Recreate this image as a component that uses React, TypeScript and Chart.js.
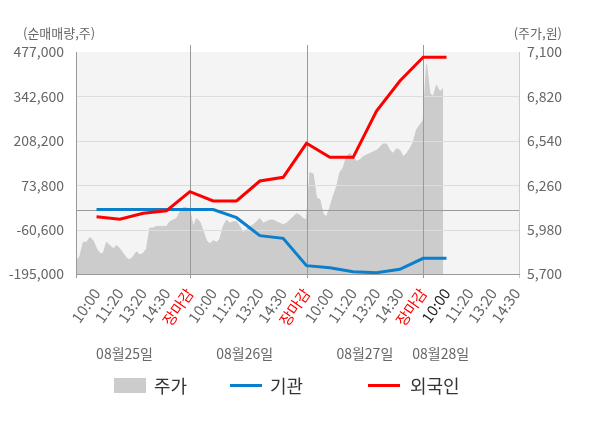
import { useEffect, useRef } from "react"
import { Chart, registerables } from "chart.js"

Chart.register(...registerables)

// x-axis tick labels, one per slot 1..19
const xTickLabels = [
  "10:00", "11:20", "13:20", "14:30", "장마감",
  "10:00", "11:20", "13:20", "14:30", "장마감",
  "10:00", "11:20", "13:20", "14:30", "장마감",
  "10:00", "11:20", "13:20", "14:30",
]
const closeSlots = [5, 10, 15]
const dayLabels = ["08월25일", "08월26일", "08월27일", "08월28일"]
const dayLabelSlots = [2.2, 7.35, 12.5, 15.75]

const flowTicks = [-195000, -60600, 73800, 208200, 342600, 477000]
const priceTicks = [5700, 5980, 6260, 6540, 6820, 7100]

// net buying (shares) at slots 1..16
const institutionNet = [
  0, 0, 0, 0, 0,
  0, -24600, -79000, -87000, -169800,
  -175900, -188000, -191000, -180800, -147500,
  -147500,
]
const foreignNet = [
  -21500, -29500, -11300, -3400, 54100,
  26000, 26000, 86500, 97700, 200600,
  158200, 158200, 298400, 389200, 460900,
  460900,
]

// intraday price (won), 35 samples per full day
const samplesPerDay = 35
const priceDay1 = [
  5790, 5810, 5900, 5900, 5930, 5910, 5860, 5830, 5830, 5900,
  5880, 5860, 5880, 5860, 5830, 5800, 5790, 5810, 5840, 5820,
  5830, 5860, 5990, 5990, 6000, 6000, 6000, 6000, 6030, 6040,
  6050, 6090, 6120, 6120, 6100,
]
const priceDay2 = [
  6000, 6050, 6030, 5970, 5910, 5890, 5910, 5900, 5920, 6000,
  6040, 6020, 6030, 6030, 6000, 5960, 5980, 6000, 6010, 6030,
  6050, 6020, 6030, 6040, 6040, 6030, 6020, 6010, 6020, 6040,
  6060, 6080, 6070, 6050, 6040,
]
const priceDay3 = [
  6340, 6330, 6180, 6170, 6080, 6060, 6120, 6190, 6250, 6340,
  6370, 6440, 6460, 6440, 6410, 6420, 6440, 6450, 6460, 6470,
  6480, 6500, 6520, 6520, 6480, 6460, 6490, 6480, 6440, 6460,
  6490, 6530, 6610, 6640, 6670,
]
const priceDay4 = [7020, 6840, 6820, 6890, 6850, 6870]

const framePlugin = {
  id: "frame",
  beforeDatasetsDraw(chart: any) {
    const { ctx, chartArea: a } = chart
    ctx.save()
    ctx.fillStyle = "#f4f4f4"
    ctx.fillRect(a.left, a.top, a.right - a.left, a.bottom - a.top)
    ctx.restore()
  },
  afterDatasetDraw(chart: any, args: any) {
    if (args.index !== 0) return
    const { ctx, chartArea: a, scales } = chart
    const line = (x1: number, y1: number, x2: number, y2: number, color: string) => {
      ctx.strokeStyle = color
      ctx.beginPath()
      ctx.moveTo(x1, y1)
      ctx.lineTo(x2, y2)
      ctx.stroke()
    }
    ctx.save()
    ctx.lineWidth = 1
    flowTicks.slice(1, -1).forEach((v) => {
      const py = Math.round(scales.y.getPixelForValue(v)) + 0.5
      line(a.left, py, a.right, py, "#dddddd")
    })
    const zy = Math.round(scales.y.getPixelForValue(0)) + 0.5
    line(a.left, zy, a.right, zy, "#999999")
    closeSlots.forEach((s) => {
      const px = Math.round(scales.x.getPixelForValue(s)) + 0.5
      line(px, a.top - 7, px, a.bottom + 4, "#999999")
    })
    const l = Math.round(a.left) + 0.5
    const r = Math.round(a.right) - 0.5
    const b = Math.round(a.bottom) + 0.5
    line(l, a.top, l, a.bottom + 4, "#999999")
    line(r, a.top, r, a.bottom + 4, "#cccccc")
    line(a.left, b, a.right, b, "#999999")
    ctx.restore()
  },
  afterDraw(chart: any) {
    const { ctx, chartArea: a } = chart
    ctx.save()
    ctx.font = "13px 'Noto Sans CJK KR'"
    ctx.fillStyle = "#666666"
    ctx.textBaseline = "middle"
    ctx.textAlign = "left"
    ctx.fillText("(순매매량,주)", 23, a.top - 19)
    ctx.textAlign = "right"
    ctx.fillText("(주가,원)", 562, a.top - 19)
    ctx.restore()
  },
}

export default function App() {
  const chartRef = useRef<HTMLCanvasElement>(null)
  const chartInstance = useRef<Chart | null>(null)

  useEffect(() => {
    if (!chartRef.current) return
    if (chartInstance.current) chartInstance.current.destroy()

    const ctx = chartRef.current.getContext("2d")
    if (!ctx) return

    Chart.defaults.font.family = "'Noto Sans CJK KR', 'Noto Sans', sans-serif"

    const priceDays = [priceDay1, priceDay2, priceDay3, priceDay4]
    const pricePoints = priceDays.flatMap((day, d) =>
      day.map((v, i) => ({ x: d * 5 + ((i + 1) * 5) / samplesPerDay, y: v }))
    )
    const toSlots = (arr: number[]) => arr.map((v, i) => ({ x: i + 1, y: v }))

    chartInstance.current = new Chart(ctx, {
      type: "line",
      data: {
        datasets: [
          {
            label: "주가",
            data: pricePoints,
            yAxisID: "y1",
            fill: "start",
            backgroundColor: "#cccccc",
            borderColor: "#cccccc",
            borderWidth: 1,
            pointRadius: 0,
            order: 3,
          },
          {
            label: "기관",
            data: toSlots(institutionNet),
            yAxisID: "y",
            borderColor: "#0a7fcc",
            borderWidth: 3,
            pointRadius: 0,
            order: 2,
          },
          {
            label: "외국인",
            data: toSlots(foreignNet),
            yAxisID: "y",
            borderColor: "#ff0000",
            borderWidth: 3,
            pointRadius: 0,
            order: 1,
          },
        ],
      },
      options: {
        animation: false,
        responsive: true,
        maintainAspectRatio: false,
        layout: { padding: { top: 52, left: 0, right: 0, bottom: 62 } },
        plugins: {
          legend: { display: false },
          tooltip: { enabled: false },
        },
        scales: {
          x: {
            type: "linear",
            min: 0.12,
            max: 19.15,
            weight: 0,
            afterBuildTicks: (scale: any) => {
              scale.ticks = xTickLabels.map((_, i) => ({ value: i + 1 }))
            },
            afterFit: (scale: any) => {
              scale.height = 62
            },
            grid: { display: false, drawTicks: false },
            border: { display: false },
            ticks: {
              autoSkip: false,
              minRotation: 55,
              maxRotation: 55,
              padding: 11,
              font: { size: 15 },
              color: (c: any) =>
                xTickLabels[c.index] === "장마감" ? "#ff0000" : c.index === 15 ? "#222222" : "#666666",
              callback: (_v: any, i: number) => xTickLabels[i],
            },
          },
          xd: {
            type: "linear",
            position: "bottom",
            min: 0.12,
            max: 19.15,
            weight: 1,
            afterBuildTicks: (scale: any) => {
              scale.ticks = dayLabelSlots.map((v) => ({ value: v }))
            },
            afterFit: (scale: any) => {
              scale.height = 30
            },
            grid: { display: false, drawTicks: false },
            border: { display: false },
            ticks: {
              autoSkip: false,
              maxRotation: 0,
              padding: 9,
              font: { size: 14 },
              color: "#666666",
              callback: (_v: any, i: number) => dayLabels[i],
            },
          },
          y: {
            position: "left",
            min: -195000,
            max: 477000,
            afterBuildTicks: (scale: any) => {
              scale.ticks = flowTicks.map((v) => ({ value: v }))
            },
            afterFit: (scale: any) => {
              scale.width = 76
            },
            grid: { display: false, drawTicks: false },
            border: { display: false },
            ticks: {
              padding: 12,
              font: { size: 14 },
              color: "#666666",
              callback: (v: any) => Number(v).toLocaleString("en-US"),
            },
          },
          y1: {
            position: "right",
            min: 5700,
            max: 7100,
            afterBuildTicks: (scale: any) => {
              scale.ticks = priceTicks.map((v) => ({ value: v }))
            },
            afterFit: (scale: any) => {
              scale.width = 80
            },
            grid: { display: false, drawTicks: false },
            border: { display: false },
            ticks: {
              padding: 7,
              font: { size: 14 },
              color: "#666666",
              callback: (v: any) => Number(v).toLocaleString("en-US"),
            },
          },
        },
      },
      plugins: [framePlugin],
    })

    return () => {
      if (chartInstance.current) {
        chartInstance.current.destroy()
        chartInstance.current = null
      }
    }
  }, [])

  const legendText = { fontSize: 18, color: "#333333", marginLeft: 8 }

  return (
    <div
      style={{
        position: "absolute",
        left: 0,
        top: 0,
        width: 600,
        height: 428,
        background: "#ffffff",
        fontFamily: "'Noto Sans CJK KR', sans-serif",
      }}
    >
      <canvas ref={chartRef}></canvas>
      <div style={{ position: "absolute", left: 114, top: 372, display: "flex", alignItems: "center" }}>
        <span style={{ width: 32, height: 15, background: "#cccccc", display: "inline-block" }} />
        <span style={legendText}>주가</span>
      </div>
      <div style={{ position: "absolute", left: 230, top: 372, display: "flex", alignItems: "center" }}>
        <span style={{ width: 32, height: 3, background: "#0a7fcc", display: "inline-block" }} />
        <span style={legendText}>기관</span>
      </div>
      <div style={{ position: "absolute", left: 368, top: 372, display: "flex", alignItems: "center" }}>
        <span style={{ width: 32, height: 3, background: "#ff0000", display: "inline-block" }} />
        <span style={{ ...legendText, marginLeft: 10 }}>외국인</span>
      </div>
    </div>
  )
}
